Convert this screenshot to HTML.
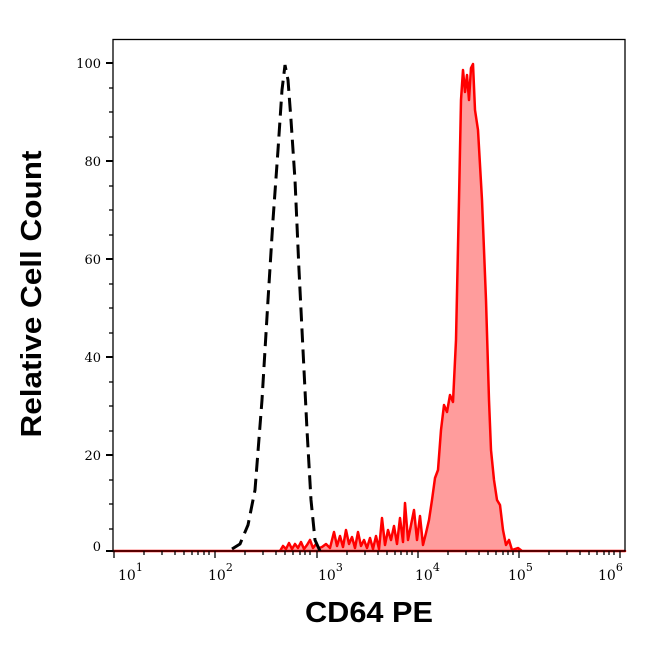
<!DOCTYPE html>
<html><head><meta charset="utf-8"><style>
body{margin:0;background:#fff;width:646px;height:641px;overflow:hidden}
text{font-family:"DejaVu Serif",serif}
</style></head><body>
<svg width="646" height="641" viewBox="0 0 646 641" xmlns="http://www.w3.org/2000/svg">
<rect width="646" height="641" fill="#fff"/>
<path d="M113,551 L280,551 L283,546 L286,549 L289,543 L292,549 L295,544 L298,548 L301,542 L304,549 L307,545 L310,540 L313,548 L316,544 L319,548 L322,547 L326,544 L330,548 L334,532 L337,546 L340,536 L343,547 L346,530 L349,544 L352,537 L355,548 L358,532 L361,546 L364,540 L367,548 L370,538 L373,549 L376,536 L379,549 L382,518 L385,545 L388,530 L391,540 L394,526 L397,544 L400,518 L403,542 L405,503 L408,540 L411,525 L414,510 L417,540 L420,516 L423,545 L426,533 L429,520 L432,500 L435,478 L438,470 L441,430 L444,405 L447,412 L450,395 L453,402 L456,340 L459,200 L461,100 L463,70 L465,92 L467,75 L469,100 L471,68 L473,64 L475,110 L478,130 L482,200 L486,300 L489,400 L491,450 L494,480 L497,500 L500,505 L503,530 L506,545 L509,540 L512,550 L518,548 L522,551 L625,551 Z" fill="#ff9c9c" stroke="#f00" stroke-width="2.5" stroke-linejoin="round"/>
<path d="M232,549 L240,544 L248,525 L255,490 L262,400 L268,300 L273,220 L278,150 L282,90 L285,65 L288,80 L291,120 L295,180 L299,270 L303,350 L307,430 L311,500 L315,540 L320,551" fill="none" stroke="#000" stroke-width="3" stroke-dasharray="14,7"/>
<rect x="113" y="39.5" width="512" height="511.5" fill="none" stroke="#000" stroke-width="1.3"/>
<g stroke="#000" stroke-width="1.3">
<line x1="106" y1="63" x2="113" y2="63" stroke-width="2"/>
<line x1="106" y1="161" x2="113" y2="161" stroke-width="2"/>
<line x1="106" y1="259" x2="113" y2="259" stroke-width="2"/>
<line x1="106" y1="357" x2="113" y2="357" stroke-width="2"/>
<line x1="106" y1="455" x2="113" y2="455" stroke-width="2"/>
<line x1="106" y1="551" x2="113" y2="551" stroke-width="2"/>
<line x1="109" y1="88" x2="113" y2="88"/><line x1="109" y1="112" x2="113" y2="112"/><line x1="109" y1="137" x2="113" y2="137"/>
<line x1="109" y1="186" x2="113" y2="186"/><line x1="109" y1="210" x2="113" y2="210"/><line x1="109" y1="235" x2="113" y2="235"/>
<line x1="109" y1="284" x2="113" y2="284"/><line x1="109" y1="308" x2="113" y2="308"/><line x1="109" y1="333" x2="113" y2="333"/>
<line x1="109" y1="382" x2="113" y2="382"/><line x1="109" y1="406" x2="113" y2="406"/><line x1="109" y1="431" x2="113" y2="431"/>
<line x1="109" y1="480" x2="113" y2="480"/><line x1="109" y1="504" x2="113" y2="504"/><line x1="109" y1="529" x2="113" y2="529"/>
</g>
<g font-size="13" text-anchor="end" fill="#000">
<text x="101" y="68">100</text><text x="101" y="166">80</text><text x="101" y="264">60</text>
<text x="101" y="362">40</text><text x="101" y="460">20</text><text x="101" y="551">0</text>
</g>
<g font-size="14" fill="#000">
<text x="118" y="580">10<tspan font-size="11" dy="-9">1</tspan></text>
<text x="208" y="580">10<tspan font-size="11" dy="-9">2</tspan></text>
<text x="318" y="580">10<tspan font-size="11" dy="-9">3</tspan></text>
<text x="415" y="580">10<tspan font-size="11" dy="-9">4</tspan></text>
<text x="508" y="580">10<tspan font-size="11" dy="-9">5</tspan></text>
<text x="598" y="580">10<tspan font-size="11" dy="-9">6</tspan></text>
</g>
<text x="369" y="622" font-weight="bold" font-size="29" text-anchor="middle" textLength="128" lengthAdjust="spacingAndGlyphs" style="font-family:'Liberation Sans',sans-serif">CD64 PE</text>
<text transform="translate(41,294) rotate(-90)" font-weight="bold" font-size="29" text-anchor="middle" textLength="287" lengthAdjust="spacingAndGlyphs" style="font-family:'Liberation Sans',sans-serif">Relative Cell Count</text>
<g stroke="#000" stroke-width="1.3">
<line x1="114" y1="551" x2="114" y2="558"/><line x1="215" y1="551" x2="215" y2="558"/><line x1="317" y1="551" x2="317" y2="558"/>
<line x1="418" y1="551" x2="418" y2="558"/><line x1="519" y1="551" x2="519" y2="558"/><line x1="620" y1="551" x2="620" y2="558"/>
<path d="M144,551v4M162,551v4M175,551v4M184,551v4M192,551v4M198,551v4M204,551v4M209,551v4
M245,551v4M263,551v4M276,551v4M285,551v4M293,551v4M300,551v4M305,551v4M310,551v4
M347,551v4M365,551v4M378,551v4M387,551v4M395,551v4M401,551v4M407,551v4M412,551v4
M448,551v4M466,551v4M479,551v4M488,551v4M496,551v4M503,551v4M508,551v4M513,551v4
M549,551v4M567,551v4M580,551v4M589,551v4M597,551v4M604,551v4M609,551v4M614,551v4"/>
</g>
</svg>
</body></html>
